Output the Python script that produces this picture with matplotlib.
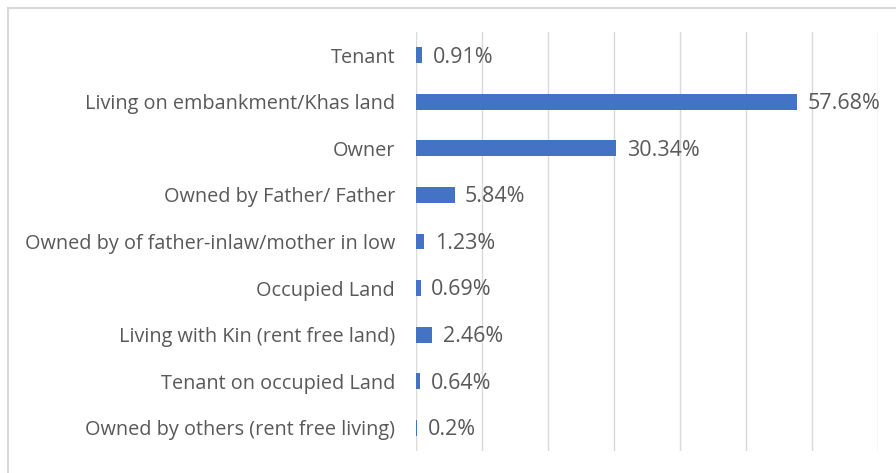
import matplotlib

matplotlib.use("Agg")
import matplotlib.pyplot as plt  # noqa: E402
from matplotlib.lines import Line2D  # noqa: E402

categories = [
    "Tenant",
    "Living on embankment/Khas land",
    "Owner",
    "Owned by Father/ Father",
    "Owned by of father-inlaw/mother in low",
    "Occupied Land",
    "Living with Kin (rent free land)",
    "Tenant on occupied Land",
    "Owned by others (rent free living)",
]
shares = [0.91, 57.68, 30.34, 5.84, 1.23, 0.69, 2.46, 0.64, 0.2]
share_labels = ["0.91%", "57.68%", "30.34%", "5.84%", "1.23%", "0.69%", "2.46%", "0.64%", "0.2%"]

text_color = "#595959"
bar_color = "#4472C4"
grid_color = "#D9D9D9"

plt.rcParams["font.family"] = ["Open Sans", "DejaVu Sans"]

fig = plt.figure(figsize=(8.96, 4.73), dpi=100)
ax = fig.add_axes([416 / 896, 1 - 451 / 473, 462 / 896, 419 / 473])

pos = list(range(len(categories)))
ax.barh(pos, shares, height=0.34, color=bar_color, zorder=3)
for y, v, lab in zip(pos, shares, share_labels):
    ax.text(v + 1.6, y + 0.04, lab, va="center", ha="left", fontsize=15.5, color=text_color)

ax.set_xlim(0, 70)
ax.set_ylim(len(categories) - 0.5, -0.5)
ax.set_xticks(range(0, 71, 10))
ax.xaxis.grid(True, color=grid_color, linewidth=1, zorder=0)
ax.tick_params(axis="x", length=0, labelbottom=False)
ax.tick_params(axis="y", length=0, pad=15, labelsize=14.3, labelcolor=text_color)
ax.set_yticks(pos)
ax.set_yticklabels(categories)
for s in ax.spines.values():
    s.set_visible(False)

# chart-area border: only the top and left edges fall inside the canvas
top = 1 - 8 / 473
left = 8 / 896
fig.lines.append(Line2D([left, 1], [top, top], transform=fig.transFigure,
                        color=grid_color, linewidth=1.5))
fig.lines.append(Line2D([left, left], [0, top], transform=fig.transFigure,
                        color=grid_color, linewidth=1.5))

fig.savefig("out.png", dpi=100)
